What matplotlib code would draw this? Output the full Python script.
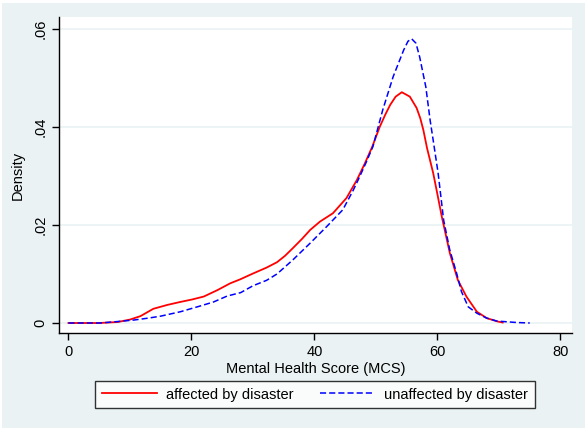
import matplotlib
matplotlib.use("Agg")
import matplotlib.pyplot as plt
from matplotlib.patches import Rectangle

# Density estimates (MCS score, density)
affected_x = [0, 5, 8, 10, 11.7, 13.8, 16.1, 18.2, 20.1, 22, 24.2, 26.3, 27.9,
              30, 31.1, 32.2, 33.9, 35.2, 36.5, 38, 39.3, 40.9, 43, 45.2, 46.9,
              48.2, 49.4, 50.6, 51.5, 52.3, 53.2, 54.2, 55.5, 56.6, 57.2, 57.7,
              58.3, 59.3, 60, 60.7, 62, 63.3, 64.7, 66.4, 68, 69.8, 70.6]
affected_y = [0, 0, 0.0002, 0.0007, 0.0014, 0.0029, 0.0037, 0.0043, 0.0048,
              0.0054, 0.0067, 0.0081, 0.0089, 0.0101, 0.0107, 0.0113, 0.0124,
              0.0137, 0.0153, 0.0172, 0.019, 0.0207, 0.0224, 0.0255, 0.0292,
              0.0326, 0.036, 0.040, 0.0425, 0.0445, 0.0462, 0.0471, 0.0462,
              0.0439, 0.0418, 0.0394, 0.0357, 0.0306, 0.0262, 0.0217, 0.0143,
              0.0088, 0.0054, 0.0023, 0.001, 0.0003, 0.0001]

unaffected_x = [0, 5.2, 8, 10.6, 13, 15, 18.2, 21.5, 23.6, 25.8, 28, 30, 32.2,
                33.9, 36.5, 39.3, 42, 44.6, 46.3, 47.1, 48.3, 49.5, 51.1, 52.8,
                54.5, 55.2, 55.8, 56.5, 57.1, 58.1, 58.8, 59.3, 60.1, 61, 62,
                63.1, 63.9, 65, 66.4, 68, 69.6, 72.9, 75]
unaffected_y = [0, 0, 0.0003, 0.0006, 0.001, 0.0014, 0.0023, 0.0035, 0.0043,
                0.0055, 0.0062, 0.0076, 0.0087, 0.0100, 0.0129, 0.0163, 0.0197,
                0.0231, 0.0271, 0.0292, 0.0325, 0.036, 0.0435, 0.0503, 0.0557,
                0.0575, 0.058, 0.0571, 0.0543, 0.0482, 0.0414, 0.0373, 0.0306,
                0.021, 0.0149, 0.0102, 0.0064, 0.0033, 0.002, 0.001, 0.0004,
                0.0001, 0.0]

x_ticks = [0, 20, 40, 60, 80]
y_ticks = [0, 0.02, 0.04, 0.06]
y_tick_labels = ["0", ".02", ".04", ".06"]


def main():
    plt.rcParams['font.family'] = ['Liberation Sans', 'DejaVu Sans']
    bg = '#eaf2f3'

    fig = plt.figure(figsize=(5.85, 4.29), dpi=100, facecolor='white')
    fig.patches.append(Rectangle((0.003, 0.002), 0.997, 0.991, transform=fig.transFigure,
                                 facecolor=bg, edgecolor='none', zorder=-10))

    ax = fig.add_axes([59 / 585, 1 - 333 / 429, 513 / 585, 316 / 429])
    ax.set_facecolor('white')

    ax.plot(affected_x, affected_y, color='#ff0000', lw=1.3, label='affected by disaster')
    ax.plot(unaffected_x, unaffected_y, color='#0000ff', lw=1.1, dashes=(4, 2),
            label='unaffected by disaster')

    ax.set_xlim(-1.54, 81.87)
    ax.set_ylim(-0.00204, 0.06245)
    ax.set_xticks(x_ticks)
    ax.set_yticks(y_ticks)
    ax.set_yticklabels(y_tick_labels, rotation=90, va='center')
    ax.tick_params(direction='out', length=5, width=1, labelsize=10.5, colors='black')
    ax.grid(axis='y', color=bg, lw=1.2)
    ax.set_axisbelow(True)
    for s in ['top', 'right']:
        ax.spines[s].set_visible(False)
    for s in ['left', 'bottom']:
        ax.spines[s].set_linewidth(1)

    ax.set_xlabel("Mental Health Score (MCS)", fontsize=10.5, labelpad=2)
    ax.set_ylabel("Density", fontsize=10.5, labelpad=6)

    # legend box spans roughly x 93-537, y 381-408 px
    leg = fig.legend(loc='center', ncol=2, bbox_to_anchor=(315 / 585, 1 - 394.5 / 429),
                     frameon=True, fancybox=False, fontsize=10.5, handlelength=3.8,
                     handletextpad=0.6, borderpad=0.45, borderaxespad=0,
                     columnspacing=1.8)
    leg.get_frame().set_edgecolor('black')
    leg.get_frame().set_linewidth(1)

    fig.savefig("out.png", dpi=100, facecolor=fig.get_facecolor())


if __name__ == '__main__':
    main()
